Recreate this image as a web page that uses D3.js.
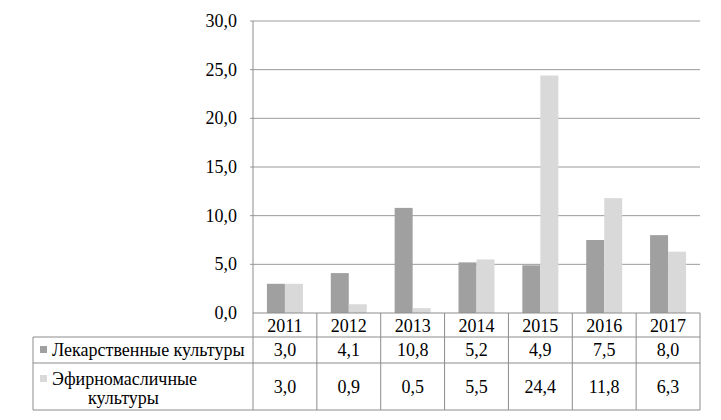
<!DOCTYPE html>
<html><head><meta charset="utf-8">
<script src="https://cdn.jsdelivr.net/npm/d3@7"></script>
</head><body style="margin:0"><svg id="c" width="721" height="420" style="display:block;background:#fff"></svg>
<script>
const years = ["2011","2012","2013","2014","2015","2016","2017"];
const seriesNames = ["Лекарственные культуры", "Эфирномасличные культуры"];
const medicinal = [3.0, 4.1, 10.8, 5.2, 4.9, 7.5, 8.0];
const essentialOil = [3.0, 0.9, 0.5, 5.5, 24.4, 11.8, 6.3];
const yTicks = [0, 5, 10, 15, 20, 25, 30];
const colors = ["#a0a0a0", "#d9d9d9"];

const svg = d3.select("#c");
const L = 253, R = 700, T = 21, B = 313;
const fmt = v => d3.format(".1f")(v).replace(".", ",");
const FS = 18;

const x = d3.scaleBand().domain(years).range([L, R]).paddingInner(0).paddingOuter(0);
const y = d3.scaleLinear().domain([0, 30]).range([B, T]);
const xs = d3.scaleBand().domain([0, 1]).range([0, 36]);
const inner = (x.bandwidth() - 36) / 2;

svg.append("g").selectAll("line").data(yTicks.filter(d => d > 0)).join("line")
  .attr("x1", L - 3).attr("x2", R).attr("y1", d => y(d)).attr("y2", d => y(d))
  .attr("stroke", "#9a9a9a").attr("stroke-width", 1);

function addText(parent, x0, y0, s, anchor) {
  return parent.append("text").attr("x", x0).attr("y", y0)
    .attr("font-family", "Liberation Serif").attr("font-size", FS)
    .attr("text-anchor", anchor).text(s);
}

const yg = svg.append("g");
yTicks.forEach(d => addText(yg, 237, y(d) + 6, fmt(d), "end"));

const data = [medicinal, essentialOil];
data.forEach((arr, si) => {
  svg.append("g").selectAll("rect").data(arr).join("rect")
    .attr("x", (d, i) => x(years[i]) + inner + xs(si))
    .attr("width", xs.bandwidth())
    .attr("y", d => y(d)).attr("height", d => B - y(d))
    .attr("fill", colors[si]);
});

const lc = "#8c8c8c";
svg.append("line").attr("x1", L).attr("x2", L).attr("y1", T).attr("y2", 410).attr("stroke", lc);
svg.append("line").attr("x1", L).attr("x2", R).attr("y1", B).attr("y2", B).attr("stroke", lc);

const rowY = [313, 337, 363, 410];
const TL = 33;
const tg = svg.append("g");
[1, 2, 3].forEach(k => tg.append("line").attr("x1", TL).attr("x2", R).attr("y1", rowY[k]).attr("y2", rowY[k]).attr("stroke", lc));
tg.append("line").attr("x1", TL).attr("x2", TL).attr("y1", rowY[1]).attr("y2", rowY[3]).attr("stroke", lc);
tg.selectAll("line.v").data(years).join("line").attr("class", "v")
  .attr("x1", d => x(d) + x.bandwidth()).attr("x2", d => x(d) + x.bandwidth())
  .attr("y1", rowY[0]).attr("y2", rowY[3]).attr("stroke", lc);

years.forEach((yr, i) => {
  const cx = x(yr) + x.bandwidth() / 2;
  addText(tg, cx, 332, yr, "middle");
  addText(tg, cx, 356, fmt(medicinal[i]), "middle");
  addText(tg, cx, 393, fmt(essentialOil[i]), "middle");
});

tg.append("rect").attr("x", 40).attr("y", 346).attr("width", 7).attr("height", 7).attr("fill", colors[0]);
addText(tg, 52, 356, seriesNames[0], "start");
tg.append("rect").attr("x", 40).attr("y", 375).attr("width", 7).attr("height", 7).attr("fill", colors[1]);
addText(tg, 52, 385, "Эфирномасличные", "start");
addText(tg, 88, 404, "культуры", "start");
</script></body></html>
